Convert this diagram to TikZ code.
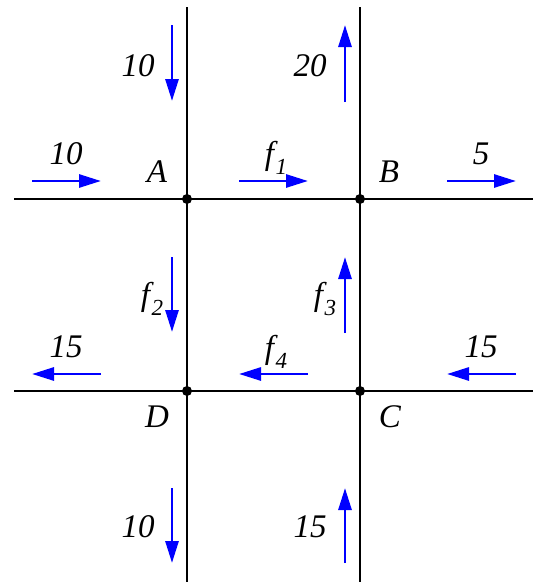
\documentclass[tikz,border=0pt]{standalone}
\usepackage{fontspec}
\setmainfont{Liberation Serif}[ItalicFont={Liberation Serif Italic}]
\usetikzlibrary{arrows.meta}
\newcommand{\fsub}[1]{f\kern0.05em\raisebox{-0.3em}{\fontsize{23}{23}\selectfont #1}}
\begin{document}
\begin{tikzpicture}[x=1pt,y=-1pt,
  street/.style={line width=2.6pt,black},
  flow/.style={line width=2.8pt,blue,-{Triangle[length=22pt,width=13pt]}},
  lbl/.style={font=\fontsize{33}{33}\selectfont\itshape,inner sep=0pt},
  junction/.style={circle,fill=black,inner sep=0pt,minimum size=10pt}]
\useasboundingbox (0,0) rectangle (537,582);
% streets
\coordinate (v1t) at (187,7); \coordinate (v1b) at (187,582);
\coordinate (v2t) at (360,7); \coordinate (v2b) at (360,582);
\coordinate (h1l) at (14,199); \coordinate (h1r) at (533,199);
\coordinate (h2l) at (14,391); \coordinate (h2r) at (533,391);
\draw[street] (v1t) -- (v1b);
\draw[street] (v2t) -- (v2b);
\draw[street] (h1l) -- (h1r);
\draw[street] (h2l) -- (h2r);
\node[junction] (jA) at (187,199) {};
\node[junction] (jB) at (360,199) {};
\node[junction] (jD) at (187,391) {};
\node[junction] (jC) at (360,391) {};
% intersection labels
\node[lbl] (A) at (157,172) {A};
\node[lbl] (B) at (389,172) {B};
\node[lbl] (D) at (157,417) {D};
\node[lbl] (C) at (390,417) {C};
% flow arrows
\coordinate (a1s) at (172,25); \coordinate (a1e) at (172,101);
\draw[flow] (a1s) -- (a1e);
\node[lbl] (l1) at (138,66) {10};
\coordinate (a2s) at (345,102); \coordinate (a2e) at (345,25);
\draw[flow] (a2s) -- (a2e);
\node[lbl] (l2) at (310,66) {20};
\coordinate (a3s) at (32,181); \coordinate (a3e) at (101,181);
\draw[flow] (a3s) -- (a3e);
\node[lbl] (l3) at (66,154) {10};
\coordinate (a4s) at (239,181); \coordinate (a4e) at (308,181);
\draw[flow] (a4s) -- (a4e);
\node[lbl] (l4) at (276,158) {\fsub{1}};
\coordinate (a5s) at (447,181); \coordinate (a5e) at (516,181);
\draw[flow] (a5s) -- (a5e);
\node[lbl] (l5) at (481,154) {5};
\coordinate (a6s) at (172,257); \coordinate (a6e) at (172,332);
\draw[flow] (a6s) -- (a6e);
\node[lbl] (l6) at (152,299) {\fsub{2}};
\coordinate (a7s) at (345,333); \coordinate (a7e) at (345,257);
\draw[flow] (a7s) -- (a7e);
\node[lbl] (l7) at (325,299) {\fsub{3}};
\coordinate (a8s) at (101,374); \coordinate (a8e) at (32,374);
\draw[flow] (a8s) -- (a8e);
\node[lbl] (l8) at (66,347) {15};
\coordinate (a9s) at (308,374); \coordinate (a9e) at (239,374);
\draw[flow] (a9s) -- (a9e);
\node[lbl] (l9) at (276,352) {\fsub{4}};
\coordinate (a10s) at (516,374); \coordinate (a10e) at (447,374);
\draw[flow] (a10s) -- (a10e);
\node[lbl] (l10) at (481,347) {15};
\coordinate (a11s) at (172,488); \coordinate (a11e) at (172,563);
\draw[flow] (a11s) -- (a11e);
\node[lbl] (l11) at (138,527) {10};
\coordinate (a12s) at (345,563); \coordinate (a12e) at (345,488);
\draw[flow] (a12s) -- (a12e);
\node[lbl] (l12) at (310,527) {15};
\end{tikzpicture}
\end{document}
